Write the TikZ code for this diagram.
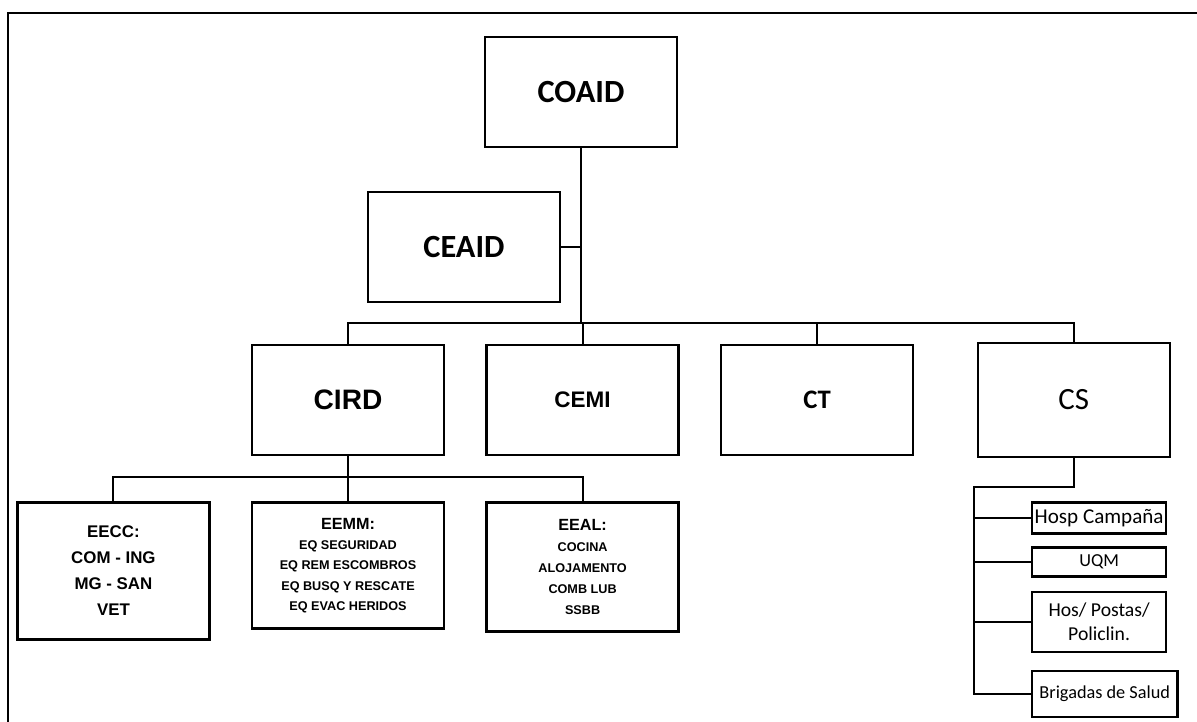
\documentclass[tikz,border=0pt]{standalone}
\usepackage{fontspec}
\setmainfont{Liberation Sans}
\newfontfamily\calibri{Carlito}
\usetikzlibrary{positioning}
\tikzset{
    unit/.style = {
        draw,
        line width=1.8pt,
        minimum width=4.8cm,
        minimum height=2.75cm,
        inner sep=0pt,
        },
    team/.style = {
        unit,
        align=center,
        font=\bfseries\fontsize{9}{14.5}\selectfont,
        },
    health/.style = {
        draw,
        line width=1.6pt,
        minimum width=3.35cm,
        anchor=west,
        inner sep=1pt,
        align=center,
        font=\calibri\fontsize{13}{17}\selectfont,
        },
    link/.style = {
        line width=1.5pt,
        },
}
\begin{document}
\begin{tikzpicture}[x=0.025cm, y=-0.025cm]
            \useasboundingbox (0,0) rectangle (1197,722);
            \draw[line width=1.5pt] (8,722) -- (8,13) -- (1197,13);

            \node[unit, font=\calibri\bfseries\fontsize{23}{23}\selectfont] (COAID) at (581,92) {COAID};
            \node[unit, font=\calibri\bfseries\fontsize{23}{23}\selectfont] (CEAID) at (464,247) {CEAID};
            \node[unit, font=\bfseries\fontsize{20}{20}\selectfont] (CIRD) at (348,400) {CIRD};
            \node[unit, right=1cm of CIRD, font=\bfseries\fontsize{16}{16}\selectfont] (CEMI) {CEMI};
            \node[unit, right=1cm of CEMI, font=\calibri\bfseries\fontsize{19}{19}\selectfont] (CT) {CT};
            \node[unit, right=1.55cm of CT, minimum height=2.85cm, font=\calibri\fontsize{22}{22}\selectfont] (CS) {CS};

            \node[team, below=1.125cm of CIRD, minimum height=3.15cm] (EEMM)
                {{\fontsize{11.5}{14}\selectfont EEMM:}\\EQ SEGURIDAD\\EQ REM ESCOMBROS\\EQ BUSQ Y RESCATE\\EQ EVAC HERIDOS};
            \node[team, left=1cm of EEMM.north west, anchor=north east, minimum height=3.42cm,
                font=\bfseries\fontsize{12}{18.5}\selectfont] (EECC) {EECC:\\COM - ING\\MG - SAN\\VET};
            \node[team, right=1cm of EEMM.north east, anchor=north west, minimum height=3.22cm,
                font=\bfseries\fontsize{9}{15}\selectfont] (EEAL)
                {{\fontsize{11.5}{14}\selectfont EEAL:}\\COCINA\\ALOJAMENTO\\COMB LUB\\SSBB};

            \node[health, minimum height=0.78cm, font=\calibri\fontsize{15}{17}\selectfont] (HOSP) at (1031,518) {Hosp Campaña};
            \node[health, minimum height=0.73cm] (UQM) at (1031,562) {UQM};
            \node[health, minimum height=1.5cm, font=\calibri\fontsize{14}{17}\selectfont] (POSTAS) at (1031,622) {Hos/ Postas/\\Policlin.};
            \node[health, minimum height=1.15cm, minimum width=3.63cm] (BRIG) at (1031,694) {Brigadas de Salud};

            \coordinate (bus) at (580,323);
            \coordinate (lowbus) at (348,477);
            \coordinate (csbus) at (974,487);

            \draw[link] (COAID.south) -- (COAID.south |- bus);
            \draw[link] (CEAID.east) -- (CEAID.east -| COAID.south);
            \draw[link] (CIRD.north) |- (bus) -| (CS.north);
            \draw[link] (CEMI.north) -- (CEMI.north |- bus);
            \draw[link] (CT.north) -- (CT.north |- bus);
            \draw[link] (CIRD.south) -- (EEMM.north);
            \draw[link] (EECC.north) |- (lowbus) -| (EEAL.north);
            \draw[link] (CS.south) |- (csbus) |- (BRIG.west);
            \foreach \n in {HOSP, UQM, POSTAS}
                \draw[link] (csbus |- \n.west) -- (\n.west);
        \end{tikzpicture}
\end{document}
